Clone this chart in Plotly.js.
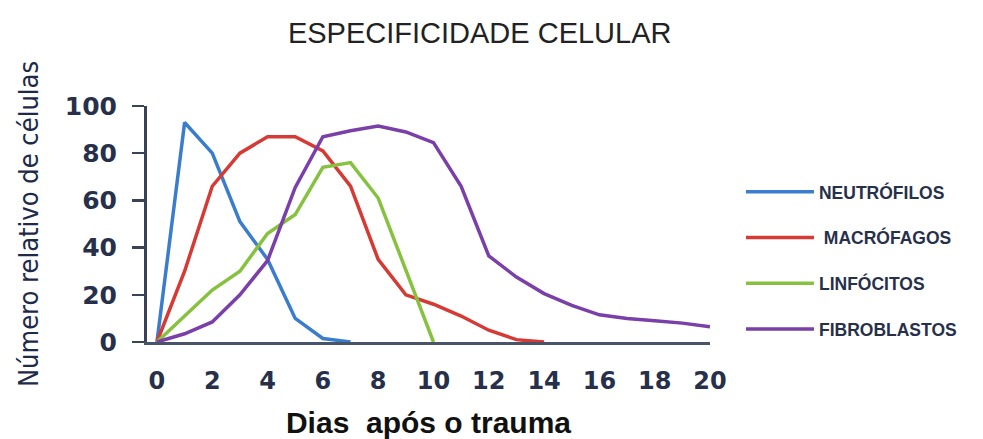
<!DOCTYPE html>
<html>
<head>
<meta charset="utf-8">
<script src="https://cdn.plot.ly/plotly-3.0.1.min.js"></script>
<style>html,body{margin:0;padding:0;background:#fff;}#chart{width:983px;height:439px;}</style>
</head>
<body>
<div id="chart"></div>
<script>
// Days after trauma
const daysNeutro = [0, 1, 2, 3, 4, 5, 6, 7];
const neutrofilos = [0, 93, 80, 51, 35, 10, 1.5, 0];

const daysMacro = [0, 1, 2, 3, 4, 5, 6, 7, 8, 9, 10, 11, 12, 13, 14];
const macrofagos = [0, 30, 66, 80, 87, 87, 81, 66, 35, 20, 16, 11, 5, 1, 0];

const daysLinfo = [0, 1, 2, 3, 4, 5, 6, 7, 8, 10];
const linfocitos = [0, 11, 22, 30, 46, 54, 74, 76, 61, 0];

const daysFibro = [0, 1, 2, 3, 4, 5, 6, 7, 8, 9, 10, 11, 12, 13, 14, 15, 16, 17, 18, 19, 20];
const fibroblastos = [0, 3.5, 8.5, 20, 34.5, 65.5, 87, 89.5, 91.5, 89, 84.5, 66, 36.5, 27.5, 20.5, 15.5, 11.5, 10, 9, 8, 6.5];

const seriesNames = ['NEUTRÓFILOS', '\u00a0MACRÓFAGOS', 'LINFÓCITOS', 'FIBROBLASTOS'];
const xTickVals = [0, 2, 4, 6, 8, 10, 12, 14, 16, 18, 20];
const yTickVals = [0, 20, 40, 60, 80, 100];

const colors = ['#3a7dcc', '#d63a34', '#86c13f', '#7a3fa8'];
const xs = [daysNeutro, daysMacro, daysLinfo, daysFibro];
const ys = [neutrofilos, macrofagos, linfocitos, fibroblastos];

const traces = ys.map((y, i) => ({
  x: xs[i], y: y, name: seriesNames[i], type: 'scatter', mode: 'lines',
  line: {color: colors[i], width: 3.5}, cliponaxis: false,
  legendgroup: 'g' + i
}));

const layout = {
  width: 983, height: 439,
  margin: {l: 147, r: 273, t: 106, b: 97},
  paper_bgcolor: '#fff', plot_bgcolor: '#fff',
  title: {text: 'ESPECIFICIDADE CELULAR', x: 0.488, xanchor: 'center', y: 0.925, yanchor: 'middle',
          font: {family: 'Liberation Sans, Arial, sans-serif', size: 29, color: '#222'}},
  xaxis: {
    range: [-0.36, 20], tickvals: xTickVals, ticks: '', showgrid: false, zeroline: false,
    showline: true, linecolor: '#4a5468', linewidth: 3,
    tickfont: {family: 'DejaVu Sans, sans-serif', size: 24, color: '#27304a', weight: 'bold'},
    ticklabelstandoff: 15,
    title: {text: 'Dias\u00a0\u00a0após o trauma', standoff: 20,
            font: {family: 'Liberation Sans, Arial, sans-serif', size: 30, color: '#111', weight: 'bold'}}
  },
  yaxis: {
    range: [0, 100], tickvals: yTickVals, ticks: 'outside', ticklen: 12, tickwidth: 2.5, tickcolor: '#3a4258',
    showgrid: false, zeroline: false, showline: true, linecolor: '#3a4258', linewidth: 3,
    tickfont: {family: 'DejaVu Sans, sans-serif', size: 25, color: '#27304a', weight: 'bold'},
    ticklabelstandoff: 10,
    title: {text: 'Número relativo de células', standoff: 19,
            font: {family: 'DejaVu Sans Condensed, Liberation Sans Narrow, Roboto Condensed, sans-serif', size: 27, color: '#1e2a4a', stretch: 'condensed'}}
  },
  showlegend: true,
  legend: {x: 1.055, xanchor: 'left', y: 0.346, yanchor: 'middle', tracegroupgap: 20,
           itemwidth: 68,
           font: {family: 'Liberation Sans, Arial, sans-serif', size: 17.5, color: '#27304a', weight: 'bold'},
           bgcolor: 'rgba(0,0,0,0)'}
};

Plotly.newPlot('chart', traces, layout, {displayModeBar: false, staticPlot: true});
</script>
</body>
</html>
